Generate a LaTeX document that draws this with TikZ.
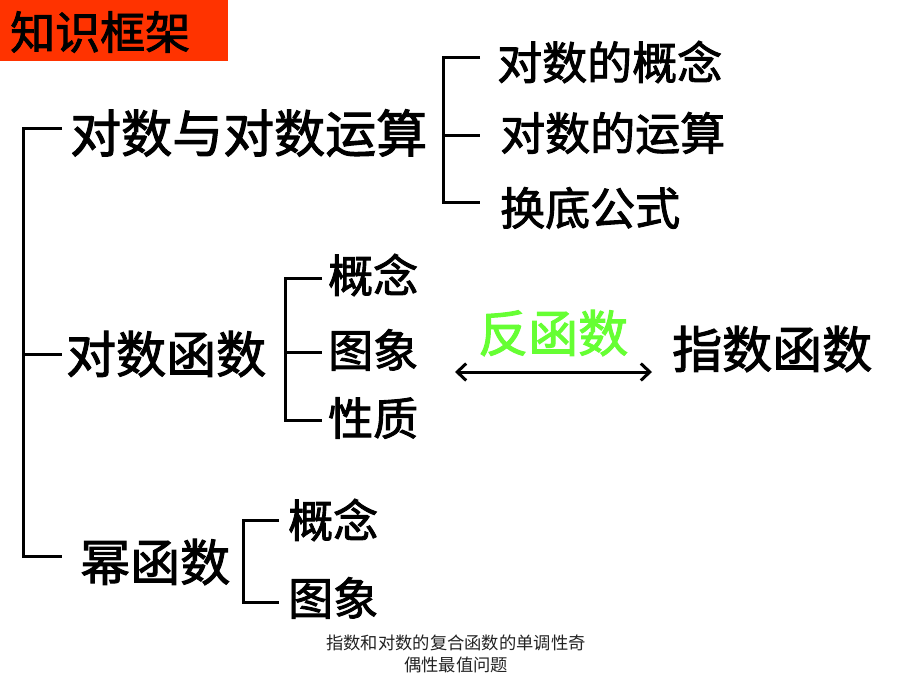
\documentclass[tikz,border=0pt]{standalone}
\usepackage{fontspec}
\setmainfont{Noto Sans CJK SC}[BoldFont={Noto Sans CJK SC},BoldFeatures={FakeBold=2}]
\usetikzlibrary{arrows.meta}
\definecolor{titlered}{HTML}{FF3300}
\definecolor{invgreen}{HTML}{66FF33}
\definecolor{footgray}{HTML}{222222}
\tikzset{
  big/.style={anchor=west,inner sep=0pt,font=\fontsize{50}{54}\selectfont\bfseries},
  mid/.style={anchor=west,inner sep=0pt,font=\fontsize{45}{50}\selectfont\bfseries},
  brk/.style={line width=3pt,line cap=butt,line join=miter},
  foot/.style={inner sep=0pt,font=\fontsize{17.3}{21.5}\selectfont,text=footgray,align=center}
}
\begin{document}
\begin{tikzpicture}[x=1pt,y=-1pt]
\useasboundingbox (0,0) rectangle (920,690);
% title
\fill[titlered] (0,0) rectangle (228,61);
\node[anchor=west,inner sep=0pt,font=\fontsize{45}{50}\selectfont\bfseries] (title) at (10,32) {知识框架};
% main bracket
\coordinate (m1) at (62,128);
\coordinate (m2) at (62,354);
\coordinate (m3) at (62,556);
\draw[brk] (m1) -| (23,556) -- (m3);
\draw[brk] (23,354) -- (m2);
% level 1
\node[big,font=\fontsize{51}{55}\selectfont\bfseries] (a) at (70,133) {对数与对数运算};
\node[big] (b) at (66,354) {对数函数};
\node[big] (c) at (80,562) {幂函数};
% bracket 1
\coordinate (a1) at (480,58);
\coordinate (a2) at (480,135);
\coordinate (a3) at (480,202);
\draw[brk] (a1) -| (443,202) -- (a3);
\draw[brk] (443,135) -- (a2);
\node[mid] (a1t) at (497,62) {对数的概念};
\node[mid] (a2t) at (500,133) {对数的运算};
\node[mid] (a3t) at (500,208) {换底公式};
% bracket 2
\coordinate (b1) at (322,278);
\coordinate (b2) at (322,352);
\coordinate (b3) at (322,420);
\draw[brk] (b1) -| (285,420) -- (b3);
\draw[brk] (285,352) -- (b2);
\node[mid] (b1t) at (328,275) {概念};
\node[mid] (b2t) at (328,350) {图象};
\node[mid] (b3t) at (328,418) {性质};
% bracket 3
\coordinate (c1) at (279,520);
\coordinate (c2) at (279,602);
\draw[brk] (c1) -| (243,602) -- (c2);
\node[mid] (c1t) at (288,520) {概念};
\node[mid] (c2t) at (288,598) {图象};
% inverse
\node[big,text=invgreen] (inv) at (478,333) {反函数};
\node[big] (exp) at (672,349) {指数函数};
\coordinate (l) at (455,372);
\coordinate (r) at (652,372);
\draw[line width=3pt,{Straight Barb[length=9pt,width=17pt]}-{Straight Barb[length=9pt,width=17pt]}] (l) -- (r);
% footer
\node[foot] (f) at (456,654) {指数和对数的复合函数的单调性奇\\偶性最值问题};
\end{tikzpicture}
\end{document}
